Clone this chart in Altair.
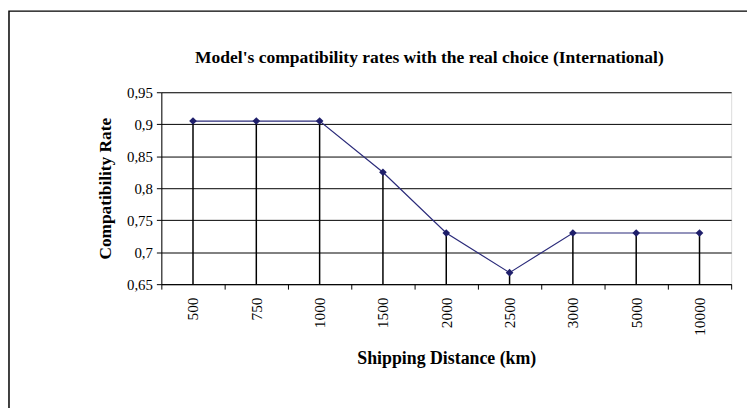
import altair as alt
import pandas as pd

distances = ["500", "750", "1000", "1500", "2000", "2500", "3000", "5000", "10000"]
rates = [0.905, 0.905, 0.905, 0.825, 0.73, 0.668, 0.73, 0.73, 0.73]
y_ticks = [0.65, 0.7, 0.75, 0.8, 0.85, 0.9, 0.95]
chart_title = "Model's compatibility rates with the real choice (International)"

df = pd.DataFrame({"dist": distances, "rate": rates})

FONT = "Liberation Serif"
W, H = 576, 194

xenc = alt.X("dist:N", sort=distances,
             scale=alt.Scale(type="band", paddingInner=0, paddingOuter=0),
             axis=alt.Axis(title="Shipping Distance (km)", labelAngle=-90,
                           tickBand="extent", tickSize=5, tickColor="black",
                           domainColor="black", labelFont=FONT, labelFontSize=15.5,
                           labelColor="black", labelPadding=8, labelAlign="right",
                           labelBaseline="middle",
                           titleFont=FONT, titleFontSize=18, titleFontWeight="bold",
                           titleColor="black", titlePadding=14, grid=False))
yscale = alt.Scale(domain=[0.65, 0.95], nice=False, zero=False)
yenc = alt.Y("rate:Q", scale=yscale,
             axis=alt.Axis(title="Compatibility Rate", values=y_ticks,
                           labelExpr="replace(format(datum.value, '.2~f'), '.', ',')",
                           grid=True, gridColor="black", gridWidth=1, gridOpacity=1,
                           tickSize=5, tickColor="black", domainColor="black",
                           labelFont=FONT, labelFontSize=15, labelColor="black",
                           labelPadding=4,
                           titleFont=FONT, titleFontSize=17.5, titleFontWeight="bold",
                           titleColor="black", titlePadding=12))

base = alt.Chart(df)

drops = base.mark_rule(color="black", strokeWidth=1.5).encode(
    x=xenc, y=yenc, y2=alt.datum(0.65))
line = base.mark_line(color="#2B2B7A", strokeWidth=1.2).encode(x=xenc, y=yenc)
pts = base.mark_point(shape="diamond", filled=True, color="#1F1F6B", size=60, opacity=1).encode(
    x=xenc, y=yenc)

frame = alt.Chart(pd.DataFrame({"a": [0]})).mark_rect(
    fill=None, stroke="black", strokeWidth=1.5, clip=False).encode(
    x=alt.value(-154), x2=alt.value(W + 40), y=alt.value(-82), y2=alt.value(H + 150))

title_txt = alt.Chart(pd.DataFrame({"t": [chart_title]})).mark_text(
    font=FONT, fontSize=17.7, fontWeight="bold", color="black",
    align="center", baseline="alphabetic").encode(
    text="t:N", x=alt.value(271), y=alt.value(-30))

chart = alt.layer(frame, drops, line, pts, title_txt).properties(
    width=W, height=H,
    autosize=alt.AutoSizeParams(type="none"),
    padding={"left": 155, "top": 83, "right": 16, "bottom": 123},
).configure_view(stroke="#A0A0A0", strokeWidth=1).configure(background="white")

chart.save("out.html", embed_options={"renderer": "svg", "actions": False})
